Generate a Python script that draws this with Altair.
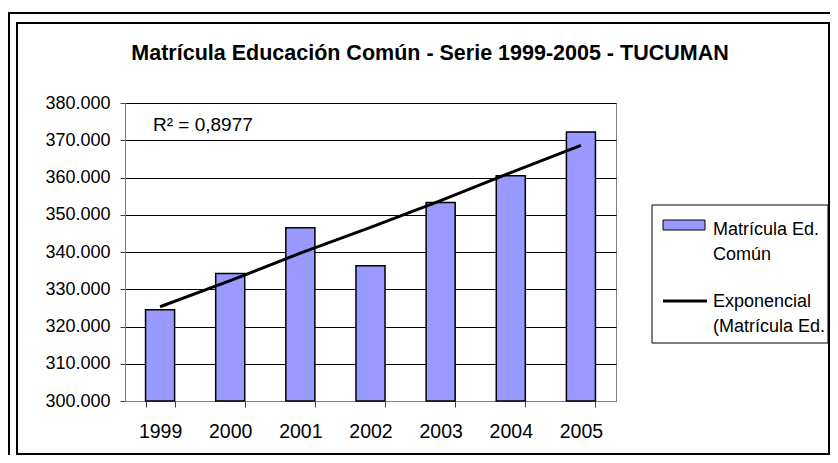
import altair as alt
import pandas as pd

# ---- data ----
years = ["1999", "2000", "2001", "2002", "2003", "2004", "2005"]
matricula = [324500, 334200, 346500, 336300, 353300, 360500, 372200]
tendencia = [325300, 332300, 339700, 346600, 353800, 361300, 368600]
y_ticks = [300000, 310000, 320000, 330000, 340000, 350000, 360000, 370000, 380000]
title_text = "Matrícula Educación Común - Serie 1999-2005 - TUCUMAN"
r2_text = "R² = 0,8977"
legend_bar_lines = ["Matrícula Ed.", "Común"]
legend_line_lines = ["Exponencial", "(Matrícula Ed."]

df = pd.DataFrame({"year": years, "matricula": matricula, "tendencia": tendencia})
one = pd.DataFrame({"k": [0]})

W, H = 491, 298
FONT = "Liberation Sans"
FS = 18
BAR_FILL = "#9999FF"

x_axis = alt.Axis(
    labelAngle=0, tickBand="extent", grid=False,
    labelFont=FONT, labelFontSize=19.5, labelColor="black",
    domainColor="#808080", tickColor="#404040", tickSize=6,
    labelPadding=15, labelOverlap=False,
)
x_scale = alt.Scale(paddingInner=0.586, paddingOuter=0.293)
y_scale = alt.Scale(domain=[300000, 380000], zero=False, nice=False)
y_axis = alt.Axis(
    values=y_ticks, tickCount=9, title=None,
    labelExpr="floor(datum.value/1000) + '.000'",
    grid=True, gridColor="black", gridWidth=1,
    labelFont=FONT, labelFontSize=FS, labelColor="black",
    domainColor="#808080", tickColor="#404040", tickSize=5, labelPadding=10,
    labelOverlap=False,
)

base = alt.Chart(df)

bars = base.mark_bar(fill=BAR_FILL, stroke="black", strokeWidth=1.5).encode(
    x=alt.X("year:O", title=None, scale=x_scale, axis=x_axis),
    y=alt.Y("matricula:Q", title=None, scale=y_scale, axis=y_axis),
    y2=alt.datum(300000),
)

trend = base.mark_line(color="black", strokeWidth=3).encode(
    x=alt.X("year:O", title=None, scale=x_scale, axis=x_axis),
    y=alt.Y("tendencia:Q", title=None, scale=y_scale, axis=y_axis),
)

deco = alt.Chart(one)

outer = deco.mark_rect(fill=None, stroke="black", strokeWidth=2).encode(
    x=alt.value(-116), x2=alt.value(760), y=alt.value(-90), y2=alt.value(420)
)
inner = deco.mark_rect(fill=None, stroke="black", strokeWidth=2).encode(
    x=alt.value(-108), x2=alt.value(704), y=alt.value(-80), y2=alt.value(351)
)
title = deco.mark_text(
    text=title_text, font=FONT, fontSize=21.5, fontWeight="bold",
    align="center", baseline="alphabetic", color="black",
).encode(x=alt.value(305), y=alt.value(-43))

r2 = deco.mark_text(
    text=r2_text, font=FONT, fontSize=19, align="left",
    baseline="alphabetic", color="black",
).encode(x=alt.value(28), y=alt.value(28))

leg_box = deco.mark_rect(fill="white", stroke="black", strokeWidth=1).encode(
    x=alt.value(527), x2=alt.value(703), y=alt.value(102), y2=alt.value(240)
)
leg_swatch = deco.mark_rect(fill=BAR_FILL, stroke="black", strokeWidth=1).encode(
    x=alt.value(538), x2=alt.value(580), y=alt.value(117), y2=alt.value(127)
)
leg_line = deco.mark_rule(color="black", strokeWidth=3).encode(
    x=alt.value(538), x2=alt.value(582), y=alt.value(198)
)
leg_t1 = deco.mark_text(
    text=legend_bar_lines, font=FONT, fontSize=FS, align="left",
    baseline="alphabetic", lineHeight=25, color="black",
).encode(x=alt.value(588), y=alt.value(132))
leg_t2 = deco.mark_text(
    text=legend_line_lines, font=FONT, fontSize=FS, align="left",
    baseline="alphabetic", lineHeight=25, color="black",
).encode(x=alt.value(588), y=alt.value(204))

chart = alt.layer(
    outer, inner, title, bars, trend, r2,
    leg_box, leg_swatch, leg_line, leg_t1, leg_t2,
).properties(
    width=W, height=H,
    autosize=alt.AutoSizeParams(type="none"),
    padding={"left": 117, "top": 95, "right": 214, "bottom": 54},
    background="white",
).configure_view(stroke="#808080", strokeWidth=1)

chart.save("out.html", embed_options={"renderer": "svg", "actions": False})
